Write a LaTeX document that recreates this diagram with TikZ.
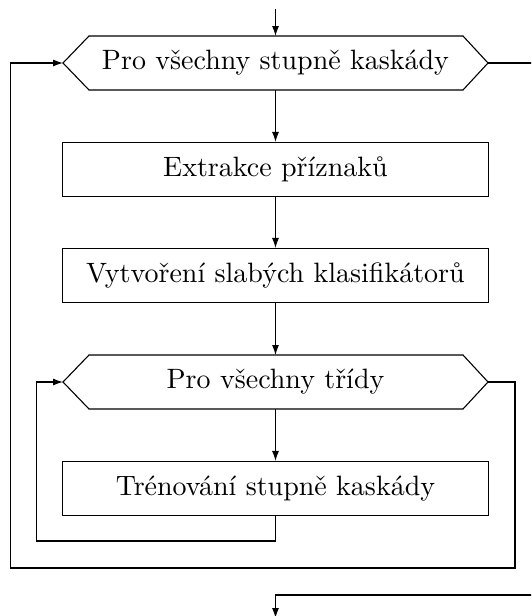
\documentclass[tikz,border=0pt]{standalone}
\usepackage{graphicx}
\usetikzlibrary{arrows.meta}
\newcommand{\bigtxt}[1]{\scalebox{2.8}{\fontsize{10}{12}\selectfont #1}}
\begin{document}
\begin{tikzpicture}[x=1pt,y=-1pt,
  lbl/.style={line width=1.1pt, inner sep=0pt},
  procbox/.style={lbl, draw, rectangle, minimum width=426pt, minimum height=54pt},
  loophex/.style={lbl, rectangle, outer sep=0pt, minimum width=425pt, minimum height=54pt},
  hexline/.style={line width=1.1pt, line join=miter},
  conn/.style={line width=1.1pt},
  arr/.style={conn, -{Latex[length=10pt,width=7pt]}}]
\useasboundingbox (0,0) rectangle (531,616);
\clip (0,0) rectangle (531,616);
\node[loophex] (h1) at (275.5,63) {\bigtxt{Pro všechny stupně kaskády}};
\node[procbox] (b1) at (275.5,169.5) {\bigtxt{Extrakce příznaků}};
\node[procbox] (b2) at (275.5,275.5) {\bigtxt{Vytvoření slabých klasifikátorů}};
\node[loophex] (h2) at (275.5,382) {\bigtxt{Pro všechny třídy}};
\node[procbox] (b3) at (275.5,488.5) {\bigtxt{Trénování stupně kaskády}};
\foreach \h in {h1,h2}{
  \draw[hexline] (\h.west) -- ([xshift=26pt]\h.north west) -- ([xshift=-25pt]\h.north east)
    -- (\h.east) -- ([xshift=-25pt]\h.south east) -- ([xshift=26pt]\h.south west) -- cycle;
}
\coordinate (top) at (275.5,9);
\coordinate (il) at (36.7,541);
\coordinate (ol) at (10.7,568);
\coordinate (orr) at (515,568);
\coordinate (ex) at (560,595);
\coordinate (bot) at (275.5,618);
\draw[arr] (top) -- (h1.north);
\draw[arr] (h1.south) -- (b1.north);
\draw[arr] (b1.south) -- (b2.north);
\draw[arr] (b2.south) -- (h2.north);
\draw[arr] (h2.south) -- (b3.north);
\draw[arr] (b3.south) |- (il) |- (h2.west);
\draw[arr] (h2.east) -| (orr) -- (ol) |- (h1.west);
\draw[conn] (h1.east) -- ++(80,0);
\draw[arr] (ex) -| (bot);
\end{tikzpicture}
\end{document}
